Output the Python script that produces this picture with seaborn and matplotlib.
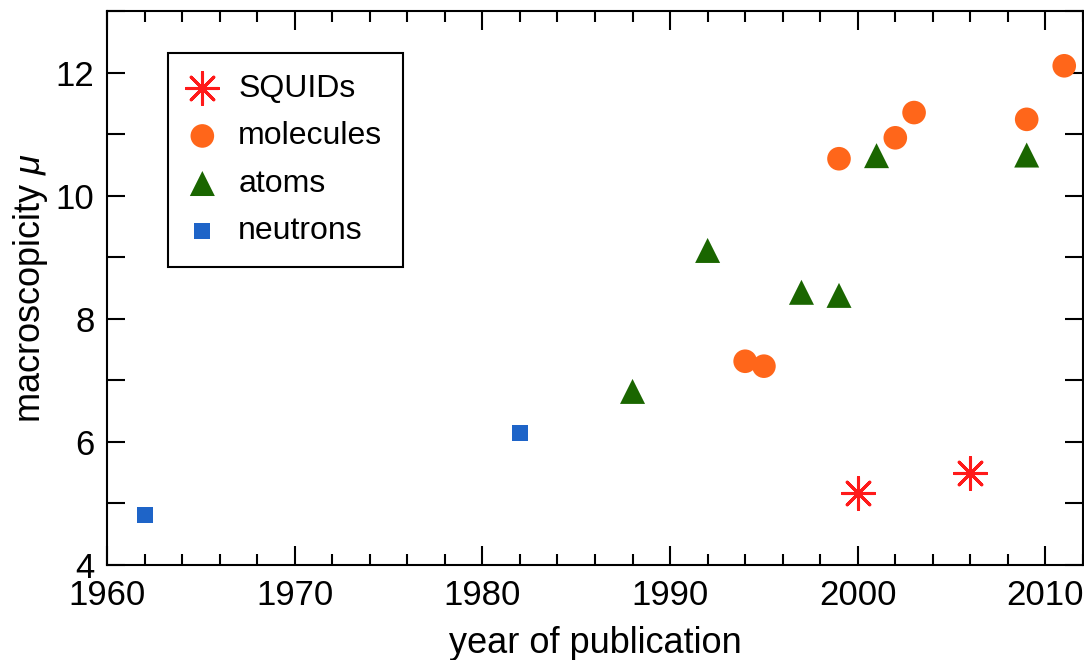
import matplotlib
matplotlib.use("Agg")
import matplotlib.pyplot as plt
from matplotlib.ticker import MultipleLocator
import seaborn as sns
import pandas as pd

# ---- data ----
squid_year = [2000, 2006]
squid_mu = [5.17, 5.50]

molecule_year = [1994, 1995, 1999, 2002, 2003, 2009, 2011]
molecule_mu = [7.31, 7.23, 10.60, 10.94, 11.35, 11.24, 12.11]

atom_year = [1988, 1992, 1997, 1999, 2001, 2009]
atom_mu = [6.82, 9.11, 8.43, 8.38, 10.65, 10.66]

neutron_year = [1962, 1982]
neutron_mu = [4.82, 6.15]

labels = ["SQUIDs", "molecules", "atoms", "neutrons"]
colors = ["#FF1A1A", "#FF661A", "#1A6600", "#1E64C8"]

sns.set_style("ticks")
plt.rcParams["font.family"] = ["Liberation Sans", "DejaVu Sans"]
plt.rcParams["mathtext.fontset"] = "custom"
plt.rcParams["mathtext.it"] = "Liberation Sans:italic"
plt.rcParams["mathtext.rm"] = "Liberation Sans"
for k in ["text.color", "axes.labelcolor", "xtick.color", "ytick.color", "axes.edgecolor"]:
    plt.rcParams[k] = "black"

fig = plt.figure(figsize=(10.84, 6.6), dpi=100)
ax = fig.add_axes([107 / 1084, 1 - 565 / 660, (1083 - 107) / 1084, (565 - 11) / 660])

groups = [
    (squid_year, squid_mu, (8, 2, 0), 23 ** 2),
    (molecule_year, molecule_mu, "o", 17 ** 2),
    (atom_year, atom_mu, "^", 18 ** 2),
    (neutron_year, neutron_mu, "s", 11.5 ** 2),
]
for (yrs, mus, mk, sz), lab, col in zip(groups, labels, colors):
    df = pd.DataFrame({"year": yrs, "mu": mus})
    if mk == (8, 2, 0):
        sns.scatterplot(data=df, x="year", y="mu", ax=ax, marker=mk, s=sz,
                        color=col, linewidth=2.2, label=lab, zorder=3)
    else:
        sns.scatterplot(data=df, x="year", y="mu", ax=ax, marker=mk, s=sz,
                        color=col, edgecolor="none", linewidth=0, label=lab, zorder=3)

ax.set_xlim(1960, 2012)
ax.set_ylim(4, 13)
ax.xaxis.set_major_locator(MultipleLocator(10))
ax.xaxis.set_minor_locator(MultipleLocator(2))
ax.yaxis.set_major_locator(MultipleLocator(2))
ax.yaxis.set_minor_locator(MultipleLocator(1))
ax.tick_params(which="both", direction="in", top=True, right=True,
               width=1.5, color="black", labelsize=25, labelcolor="black")
ax.tick_params(axis="x", which="major", length=14, pad=10)
ax.tick_params(axis="x", which="minor", length=8)
ax.tick_params(axis="y", which="both", length=13, pad=9)
for sp in ax.spines.values():
    sp.set_linewidth(1.5)
    sp.set_color("black")

ax.set_xlabel("year of publication", fontsize=26, labelpad=10)
ax.set_ylabel("macroscopicity $\\mu$", fontsize=26, labelpad=4)

leg = ax.legend(loc="upper left", bbox_to_anchor=((168 - 107) / 976, 1 - (53 - 11) / 554),
                fontsize=23, frameon=True, fancybox=False, edgecolor="black",
                borderpad=0.65, labelspacing=0.55, handletextpad=0.7,
                handlelength=0.85, borderaxespad=0)
leg.get_frame().set_linewidth(1.5)
leg.get_frame().set_alpha(1)

fig.savefig("out.png", dpi=100)
